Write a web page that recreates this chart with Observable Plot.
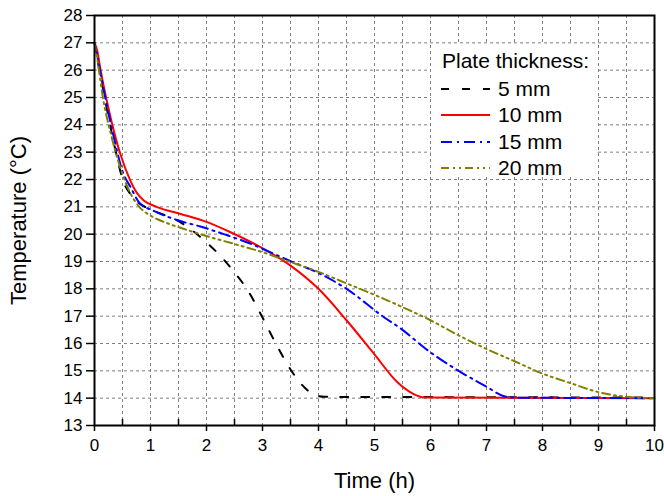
<!DOCTYPE html>
<html>
<head>
<meta charset="utf-8">
<script src="https://cdn.jsdelivr.net/npm/d3@7"></script>
<script src="https://cdn.jsdelivr.net/npm/@observablehq/plot@0.6"></script>
<style>
  html, body { margin: 0; padding: 0; background: #fff; }
  #wrap { position: relative; width: 664px; height: 496px; font-family: "Liberation Sans", Arial, sans-serif; }
  #legend { position: absolute; left: 431px; top: 44px; width: 167px; height: 133px; background: #fff; }
  #legend .ttl { position: absolute; left: 11px; top: 5px; font-size: 21px; line-height: 24px; white-space: nowrap; }
  #legend .row { position: absolute; left: 10px; height: 24px; font-size: 21px; line-height: 24px; white-space: nowrap; }
  #legend .row svg { position: absolute; left: 0; top: 7px; }
  #legend .row span { position: absolute; left: 57px; top: 0; }
</style>
</head>
<body>
<div id="wrap"></div>
<script>
// Series: plate thickness
const seriesNames = ["5 mm", "10 mm", "15 mm", "20 mm"];
const seriesColors = ["#000000", "#ff0000", "#0000ff", "#808000"];
const seriesDash = ["8,13", null, "11,5,2,5", "8,4,2,4,2,4"];

// Time (h) and temperature (°C) for each series
const t5  = [0, 0.07, 0.2, 0.35, 0.52, 0.65, 0.76, 1, 1.25, 1.5, 1.75, 2, 2.25, 2.5, 2.75, 3, 3.25, 3.5, 3.7, 3.9, 4.1, 5, 6, 7, 8, 9, 10];
const T5  = [27, 26.2, 24.8, 23.3, 21.9, 21.45, 21.2, 20.9, 20.7, 20.48, 20.13, 19.7, 19.2, 18.6, 17.9, 16.95, 15.95, 15.05, 14.5, 14.15, 14.05, 14.04, 14.04, 14.03, 14.03, 14.02, 14.02];

const t10 = [0, 0.05, 0.1, 0.25, 0.46, 0.64, 0.76, 0.88, 1.12, 1.54, 2, 2.43, 3.02, 3.5, 4, 4.5, 5, 5.4, 5.7, 5.9, 10];
const T10 = [27, 26.7, 26.1, 24.6, 22.94, 21.96, 21.5, 21.23, 20.99, 20.74, 20.45, 20.07, 19.46, 18.85, 18.0, 16.85, 15.6, 14.6, 14.15, 14.02, 14.0];

const t15 = [0, 0.07, 0.2, 0.35, 0.5, 0.65, 0.8, 1.06, 1.5, 1.89, 2.31, 2.79, 3.2, 3.62, 4, 4.5, 5.17, 5.5, 5.88, 6.5, 7, 7.3, 7.5, 10];
const T15 = [27, 26.3, 24.9, 23.5, 22.3, 21.7, 21.15, 20.85, 20.5, 20.28, 20.0, 19.65, 19.28, 18.91, 18.58, 18.0, 16.96, 16.5, 15.86, 15.0, 14.42, 14.08, 14.02, 14.0];

const t20 = [0, 0.05, 0.15, 0.3, 0.45, 0.64, 0.8, 1, 1.3, 1.6, 2, 2.5, 3, 3.5, 4, 4.5, 5, 5.5, 6, 6.5, 7, 7.5, 8, 8.5, 9, 9.5, 10];
const T20 = [27, 26.4, 25.0, 23.6, 22.5, 21.5, 21.0, 20.68, 20.4, 20.19, 19.93, 19.64, 19.34, 18.98, 18.62, 18.2, 17.78, 17.33, 16.85, 16.3, 15.8, 15.35, 14.9, 14.55, 14.22, 14.05, 14.0];

// Axis ticks
const xTicks = [0, 1, 2, 3, 4, 5, 6, 7, 8, 9, 10];
const xMinorTicks = [0.5, 1.5, 2.5, 3.5, 4.5, 5.5, 6.5, 7.5, 8.5, 9.5];
const yTicks = [13, 14, 15, 16, 17, 18, 19, 20, 21, 22, 23, 24, 25, 26, 27, 28];
const xGrid = [0.5, 1, 1.5, 2, 2.5, 3, 3.5, 4, 4.5, 5, 5.5, 6, 6.5, 7, 7.5, 8, 8.5, 9, 9.5];
const yGrid = [14, 15, 16, 17, 18, 19, 20, 21, 22, 23, 24, 25, 26, 27];

const seriesT = [t5, t10, t15, t20];
const seriesV = [T5, T10, T15, T20];
const tables = seriesT.map((ts, i) => ts.map((t, j) => ({t, T: seriesV[i][j]})));

const gridStyle = {stroke: "#808080", strokeOpacity: 1, strokeWidth: 1, strokeDasharray: "3,3"};

const chart = Plot.plot({
  width: 664,
  height: 496,
  marginLeft: 94,
  marginRight: 10,
  marginTop: 15,
  marginBottom: 71,
  style: {fontFamily: "'Liberation Sans', Arial, sans-serif", background: "#fff", color: "#000"},
  x: {domain: [0, 10]},
  y: {domain: [13, 28]},
  marks: [
    Plot.gridX(xGrid, gridStyle),
    Plot.gridY(yGrid, gridStyle),
    ...tables.map((tab, i) => Plot.line(tab, {
      x: "t", y: "T",
      stroke: seriesColors[i],
      strokeWidth: 2,
      strokeDasharray: seriesDash[i] ?? undefined,
      curve: "monotone-x"
    })),
    Plot.axisY(yTicks, {tickSize: 8, tickPadding: 4, fontSize: 17, label: null, strokeWidth: 1.5}),
    Plot.axisX(xTicks, {tickSize: 6, tickPadding: 7, fontSize: 17, label: null, strokeWidth: 1.5}),
    Plot.axisX(xMinorTicks, {tickSize: -6, tickFormat: () => "", label: null, strokeWidth: 1.5}),
    Plot.frame({stroke: "#000", strokeWidth: 2}),
    Plot.text(["Time (h)"], {frameAnchor: "bottom", dy: 62, fontSize: 22, textAnchor: "middle"}),
    Plot.text(["Temperature (°C)"], {frameAnchor: "left", dx: -76, rotate: -90, fontSize: 22, textAnchor: "middle"})
  ]
});

const wrap = document.getElementById("wrap");
wrap.appendChild(chart);

// Legend overlay
const legend = document.createElement("div");
legend.id = "legend";
const ttl = document.createElement("div");
ttl.className = "ttl";
ttl.textContent = "Plate thickness:";
legend.appendChild(ttl);
const rowTops = [33, 59, 86, 112];
seriesNames.forEach((name, i) => {
  const row = document.createElement("div");
  row.className = "row";
  row.style.top = rowTops[i] + "px";
  const s = d3.create("svg").attr("width", 50).attr("height", 10);
  s.append("line").attr("x1", 0).attr("x2", 49).attr("y1", 5).attr("y2", 5)
    .attr("stroke", seriesColors[i]).attr("stroke-width", 2)
    .attr("stroke-dasharray", seriesDash[i]);
  row.appendChild(s.node());
  const sp = document.createElement("span");
  sp.textContent = name;
  row.appendChild(sp);
  legend.appendChild(row);
});
wrap.appendChild(legend);
</script>
</body>
</html>
